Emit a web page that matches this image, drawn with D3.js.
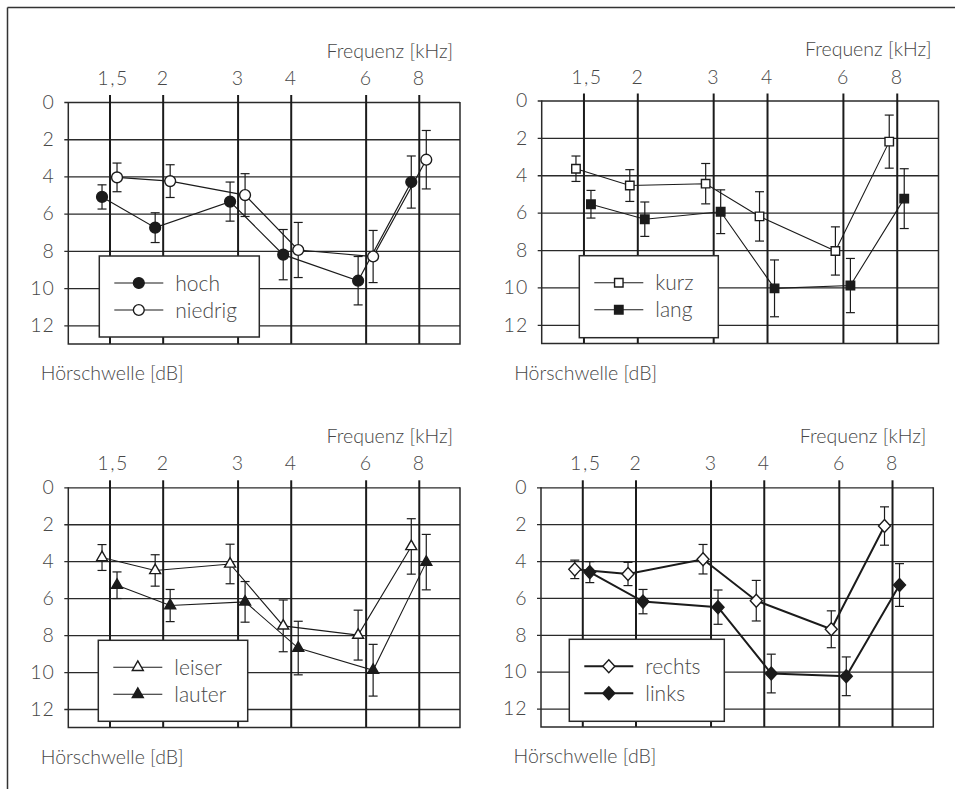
<!DOCTYPE html>
<html>
<head>
<meta charset="utf-8">
<script src="https://cdn.jsdelivr.net/npm/d3@7"></script>
<style>
  body { margin: 0; background: #fff; }
  svg text { font-family: Lato, "Open Sans", sans-serif; font-weight: 300; fill: #474747; }
</style>
</head>
<body>
<svg id="chart" width="955" height="789"></svg>
<script>
// Test frequencies (kHz) and axis ticks
const frequencies = [1.5, 2, 3, 4, 6, 8];
const frequencyLabels = ["1,5", "2", "3", "4", "6", "8"];
const thresholdTicks = [0, 2, 4, 6, 8, 10, 12];

// Mean hearing threshold (dB) and error half-width per frequency
const hochMean     = [5.1, 6.75, 5.35, 8.2, 9.6, 4.3];
const hochErr      = [0.65, 0.8, 1.05, 1.35, 1.3, 1.4];
const niedrigMean  = [4.05, 4.25, 5.0, 7.95, 8.3, 3.1];
const niedrigErr   = [0.77, 0.88, 1.15, 1.48, 1.4, 1.57];

const kurzMean     = [3.65, 4.55, 4.45, 6.2, 8.05, 2.2];
const kurzErr      = [0.68, 0.85, 1.08, 1.32, 1.29, 1.42];
const langMean     = [5.55, 6.35, 5.95, 10.05, 9.9, 5.25];
const langErr      = [0.74, 0.92, 1.17, 1.52, 1.45, 1.6];

const leiserMean   = [3.8, 4.5, 4.15, 7.5, 8.0, 3.2];
const leiserErr    = [0.7, 0.85, 1.07, 1.4, 1.35, 1.5];
const lauterMean   = [5.3, 6.4, 6.2, 8.7, 9.9, 4.05];
const lauterErr    = [0.72, 0.87, 1.1, 1.45, 1.4, 1.5];

const rechtsMean   = [4.45, 4.7, 3.9, 6.15, 7.7, 2.1];
const rechtsErr    = [0.5, 0.63, 0.8, 1.1, 1.0, 1.04];
const linksMean    = [4.6, 6.2, 6.5, 10.1, 10.25, 5.3];
const linksErr     = [0.57, 0.66, 0.93, 1.05, 1.05, 1.16];

const xTitle = "Frequenz [kHz]";
const yTitle = "Hörschwelle [dB]";

// Panel layout: plot frame, legend box, line weight
const panels = [
  { frame: { left: 68.3, right: 460, top: 102, bottom: 344 }, legend: { x: 99.3, y: 256, w: 160, h: 81 }, lw: 1.2,
    series: [ { name: "hoch", mean: hochMean, err: hochErr, shape: "circle", filled: true },
              { name: "niedrig", mean: niedrigMean, err: niedrigErr, shape: "circle", filled: false } ] },
  { frame: { left: 541.7, right: 938.5, top: 100.5, bottom: 343.5 }, legend: { x: 579.3, y: 255.7, w: 139, h: 82 }, lw: 1.1,
    series: [ { name: "kurz", mean: kurzMean, err: kurzErr, shape: "square", filled: false },
              { name: "lang", mean: langMean, err: langErr, shape: "square", filled: true } ] },
  { frame: { left: 68.3, right: 460, top: 487.3, bottom: 727.5 }, legend: { x: 98.3, y: 640.3, w: 149.4, h: 81 }, lw: 1.1,
    series: [ { name: "leiser", mean: leiserMean, err: leiserErr, shape: "triangle", filled: false },
              { name: "lauter", mean: lauterMean, err: lauterErr, shape: "triangle", filled: true } ] },
  { frame: { left: 541, right: 933.3, top: 487.3, bottom: 727 }, legend: { x: 569.3, y: 639.3, w: 155, h: 82 }, lw: 2,
    series: [ { name: "rechts", mean: rechtsMean, err: rechtsErr, shape: "diamond", filled: false },
              { name: "links", mean: linksMean, err: linksErr, shape: "diamond", filled: true } ] }
];

const pairOffset = [-7.5, 7.5];   // side-by-side displacement of the two series at each frequency
const ink = "#1b1b1b";

function markerPath(shape) {
  if (shape === "circle") return d3.symbol(d3.symbolCircle, 92)();
  if (shape === "square") return d3.symbol(d3.symbolSquare, 72)();
  if (shape === "triangle") {
    const w = 11, h = 9.5;
    return `M0,${-h * 2 / 3}L${w / 2},${h / 3}L${-w / 2},${h / 3}Z`;
  }
  return "M0,-6.5L6,0L0,6.5L-6,0Z";
}

const svg = d3.select("#chart");

// Frame around the figure (top and left edges)
svg.append("line").attr("x1", 7.5).attr("x2", 955).attr("y1", 7.5).attr("y2", 7.5)
  .attr("stroke", "#333").attr("stroke-width", 1.5);
svg.append("line").attr("x1", 7.5).attr("x2", 7.5).attr("y1", 7.5).attr("y2", 789)
  .attr("stroke", "#333").attr("stroke-width", 1.5);

panels.forEach(p => {
  const f = p.frame;
  const x = d3.scaleLog().domain([1.2, 10]).range([f.left, f.right]);
  const y = d3.scaleLinear().domain([0, 13]).range([f.top, f.bottom]);
  const g = svg.append("g");

  // Horizontal grid + threshold labels
  const yAxis = d3.axisLeft(y).tickValues(thresholdTicks).tickFormat(d3.format("d"))
    .tickSize(-(f.right - f.left + 4)).tickPadding(9.5);
  const ya = g.append("g").attr("transform", `translate(${f.left - 4},0)`).call(yAxis);
  ya.select(".domain").remove();
  ya.selectAll(".tick line").attr("stroke", "#2a2a2a").attr("stroke-width", 1.3);
  ya.selectAll(".tick text").attr("font-size", 19.5).attr("letter-spacing", 1).style("font-family", null);

  // Vertical frequency lines + labels
  const xAxis = d3.axisTop(x).tickValues(frequencies).tickFormat((d, i) => frequencyLabels[i])
    .tickSize(-(f.bottom - f.top + 7)).tickPadding(10);
  const xa = g.append("g").attr("transform", `translate(0,${f.top - 7})`).call(xAxis);
  xa.select(".domain").remove();
  xa.selectAll(".tick line").attr("stroke", ink).attr("stroke-width", 2);
  xa.selectAll(".tick text").attr("font-size", 19.5).attr("letter-spacing", 1.5)
    .attr("dx", (d, i) => i === 0 ? 3 : 0).style("font-family", null);

  // Plot border (left, right, bottom)
  g.append("path")
    .attr("d", `M${f.left},${f.top}V${f.bottom}H${f.right}V${f.top}`)
    .attr("fill", "none").attr("stroke", "#2a2a2a").attr("stroke-width", 1.5);

  // Axis titles
  g.append("text").attr("x", f.right - 7).attr("y", f.top - 44.5)
    .attr("text-anchor", "end").attr("font-size", 19.5).text(xTitle);
  g.append("text").attr("x", f.left - 27.5).attr("y", f.bottom + 36)
    .attr("font-size", 19.5).text(yTitle);

  // Connecting lines
  p.series.forEach((s, si) => {
    const line = d3.line().x((d, i) => x(frequencies[i]) + pairOffset[si]).y(d => y(d));
    g.append("path").datum(s.mean).attr("d", line)
      .attr("fill", "none").attr("stroke", ink).attr("stroke-width", p.lw).attr("stroke-linejoin", "miter");
  });

  // Error bars
  p.series.forEach((s, si) => {
    const eb = g.append("g").attr("stroke", ink).attr("stroke-width", 1.2);
    s.mean.forEach((m, i) => {
      const cx = x(frequencies[i]) + pairOffset[si];
      const y0 = y(m - s.err[i]), y1 = y(m + s.err[i]);
      eb.append("line").attr("x1", cx).attr("x2", cx).attr("y1", y0).attr("y2", y1);
      eb.append("line").attr("x1", cx - 4.5).attr("x2", cx + 4.5).attr("y1", y0).attr("y2", y0);
      eb.append("line").attr("x1", cx - 4.5).attr("x2", cx + 4.5).attr("y1", y1).attr("y2", y1);
    });
  });

  // Markers
  p.series.forEach((s, si) => {
    g.append("g").selectAll("path").data(s.mean).join("path")
      .attr("d", markerPath(s.shape))
      .attr("transform", (d, i) => `translate(${x(frequencies[i]) + pairOffset[si]},${y(d)})`)
      .attr("fill", s.filled ? ink : "#fff")
      .attr("stroke", ink).attr("stroke-width", 1.4);
  });

  // Legend
  const L = p.legend;
  const lg = g.append("g");
  lg.append("rect").attr("x", L.x).attr("y", L.y).attr("width", L.w).attr("height", L.h)
    .attr("fill", "#fff").attr("stroke", "#2a2a2a").attr("stroke-width", 1.5);
  p.series.forEach((s, row) => {
    const ry = L.y + 27 + row * 27;
    lg.append("line").attr("x1", L.x + 15).attr("x2", L.x + 64).attr("y1", ry).attr("y2", ry)
      .attr("stroke", ink).attr("stroke-width", p.lw);
    lg.append("path").attr("d", markerPath(s.shape))
      .attr("transform", `translate(${L.x + 39.5},${ry})`)
      .attr("fill", s.filled ? ink : "#fff").attr("stroke", ink).attr("stroke-width", 1.4);
    lg.append("text").attr("x", L.x + 76).attr("y", ry + 7.5).attr("font-size", 21).text(s.name);
  });
});
</script>
</body>
</html>
